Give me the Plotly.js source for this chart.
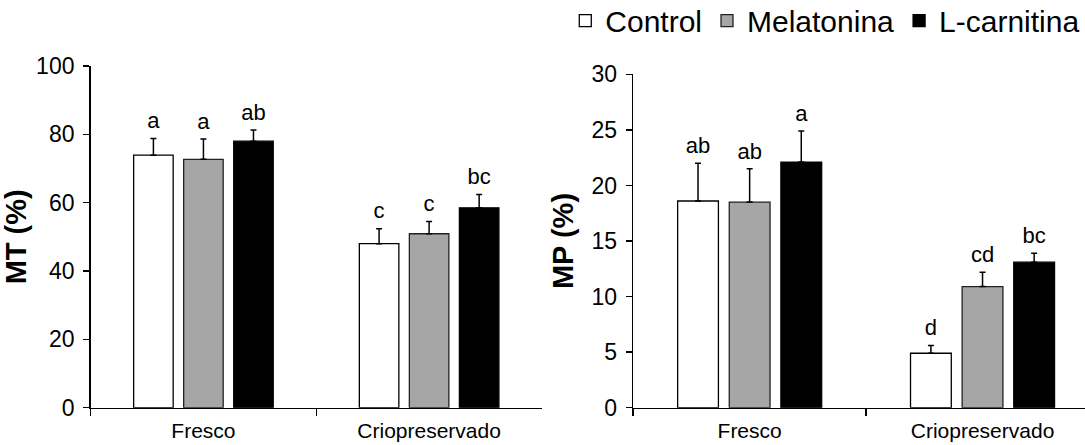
<!DOCTYPE html>
<html>
<head>
<meta charset="utf-8">
<script src="https://cdn.plot.ly/plotly-3.0.1.min.js"></script>
<style>
  html, body { margin: 0; padding: 0; background: #ffffff; }
  #chart { width: 1085px; height: 445px; }
</style>
</head>
<body>
<div id="chart"></div>
<script>
// ---- Data ----
const categories = ['Fresco', 'Criopreservado'];
const seriesNames = ['Control', 'Melatonina', 'L-carnitina'];

// MT (%)
const mtControl = [73.9, 48.0];
const mtControlErr = [4.9, 4.4];
const mtMelatonina = [72.7, 50.9];
const mtMelatoninaErr = [5.9, 3.6];
const mtLcarnitina = [78.0, 58.5];
const mtLcarnitinaErr = [3.3, 3.9];
const mtLetControl = ['a', 'c'];
const mtLetMelatonina = ['a', 'c'];
const mtLetLcarnitina = ['ab', 'bc'];

// MP (%)
const mpControl = [18.6, 4.9];
const mpControlErr = [3.4, 0.7];
const mpMelatonina = [18.5, 10.9];
const mpMelatoninaErr = [3.0, 1.3];
const mpLcarnitina = [22.1, 13.1];
const mpLcarnitinaErr = [2.8, 0.8];
const mpLetControl = ['ab', 'd'];
const mpLetMelatonina = ['ab', 'cd'];
const mpLetLcarnitina = ['a', 'bc'];

// ---- Styles ----
const FONT = 'Liberation Sans, Arial, sans-serif';
const fills = ['#ffffff', '#a6a6a6', '#000000'];
const lines = ['#000000', '#222222', '#000000'];

const traces = [];
function addPanel(xa, ya, vals, errs, lets, showLegend) {
  for (let i = 0; i < 3; i++) {
    traces.push({
      type: 'bar', x: categories, y: vals[i], name: seriesNames[i],
      xaxis: xa, yaxis: ya, showlegend: showLegend, legendgroup: seriesNames[i],
      marker: { color: fills[i], line: { color: lines[i], width: 1.3 } },
      error_y: { type: 'data', symmetric: false, array: errs[i],
                 arrayminus: errs[i].map(() => 0), color: '#000000', thickness: 1.5, width: 3 },
      hoverinfo: 'skip'
    });
  }
  for (let i = 0; i < 3; i++) {
    traces.push({
      type: 'scatter', mode: 'markers+text', x: categories,
      y: vals[i].map((v, k) => v + errs[i][k]),
      text: lets[i], textposition: 'top center',
      textfont: { family: FONT, size: 22, color: '#000000' },
      marker: { size: 6, opacity: 0 },
      xaxis: xa, yaxis: ya, showlegend: false, hoverinfo: 'skip', cliponaxis: false
    });
  }
}
addPanel('x', 'y',
  [mtControl, mtMelatonina, mtLcarnitina],
  [mtControlErr, mtMelatoninaErr, mtLcarnitinaErr],
  [mtLetControl, mtLetMelatonina, mtLetLcarnitina], true);
addPanel('x2', 'y2',
  [mpControl, mpMelatonina, mpLcarnitina],
  [mpControlErr, mpMelatoninaErr, mpLcarnitinaErr],
  [mpLetControl, mpLetMelatonina, mpLetLcarnitina], false);

const xCommon = {
  type: 'category', showgrid: false, zeroline: false,
  showline: true, linecolor: '#000000', linewidth: 1.5,
  ticks: 'outside', tickson: 'boundaries', ticklen: 7, tickwidth: 1.5, tickcolor: '#000000',
  ticklabelstandoff: 4,
  tickfont: { family: FONT, size: 21, color: '#000000' }, fixedrange: true
};
const yCommon = {
  showgrid: false, zeroline: false, showline: true, linecolor: '#000000', linewidth: 1.5,
  ticks: 'outside', ticklen: 6, tickwidth: 1.5, tickcolor: '#000000',
  ticklabelstandoff: 4,
  tickfont: { family: FONT, size: 23, color: '#000000' }, fixedrange: true
};

const layout = {
  width: 1085, height: 445,
  margin: { l: 0, r: 0, t: 0, b: 0, autoexpand: false },
  paper_bgcolor: '#ffffff', plot_bgcolor: '#ffffff',
  font: { family: FONT, color: '#000000' },
  barmode: 'group', bargap: 0.335, bargroupgap: 0.21,
  scattermode: 'group', scattergap: 0.335,
  xaxis: Object.assign({}, xCommon, { domain: [0.0835, 0.4995], range: [-0.5, 1.5], anchor: 'y' }),
  xaxis2: Object.assign({}, xCommon, { domain: [0.5836, 1.0], range: [-0.5, 1.44], anchor: 'y2' }),
  yaxis: Object.assign({}, yCommon, {
    domain: [0.0838, 0.8517], range: [0, 100], dtick: 20, anchor: 'x',
    title: { text: '<b>MT (%)</b>', font: { family: FONT, size: 29, color: '#000000' }, standoff: 2 }
  }),
  yaxis2: Object.assign({}, yCommon, {
    domain: [0.0838, 0.8330], range: [0, 30], dtick: 5, anchor: 'x2',
    title: { text: '<b>MP (%)</b>', font: { family: FONT, size: 29, color: '#000000' }, standoff: 9 }
  }),
  showlegend: true,
  legend: {
    orientation: 'h', x: 0.521, xanchor: 'left', y: 1.012, yanchor: 'top',
    font: { family: FONT, size: 30, color: '#000000' },
    bgcolor: 'rgba(0,0,0,0)', traceorder: 'normal'
  }
};

Plotly.newPlot('chart', traces, layout, { displayModeBar: false, staticPlot: true });
</script>
</body>
</html>
